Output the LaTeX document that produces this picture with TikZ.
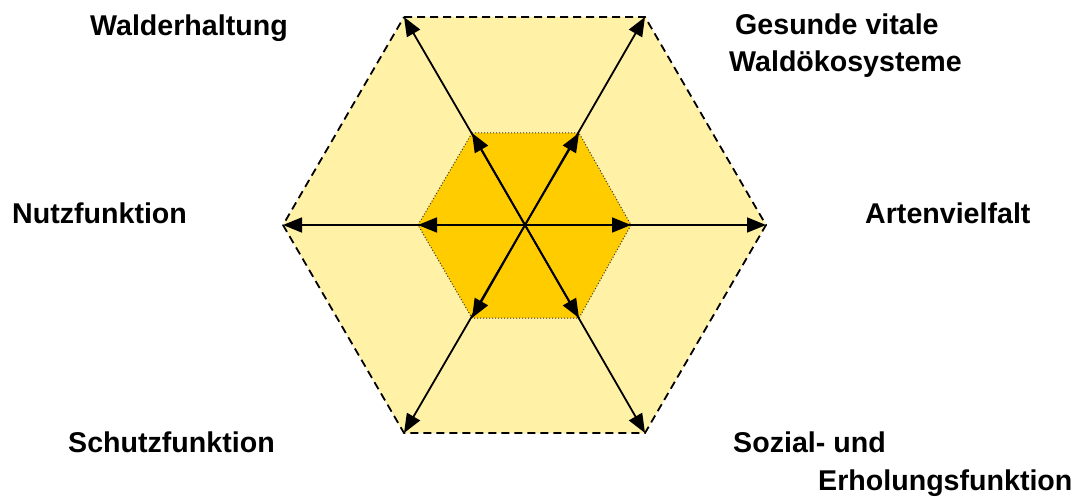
\documentclass[tikz,border=0pt]{standalone}
\usepackage{fontspec}
\setmainfont{Liberation Sans}
\usetikzlibrary{arrows.meta}
\definecolor{outerfill}{RGB}{255,241,166}
\definecolor{innerfill}{RGB}{255,204,0}
\tikzset{
  lbl/.style={anchor=base west,inner sep=0pt,font=\fontsize{28.6}{34}\selectfont\bfseries},
  ray/.style={line width=1.8pt,-{Triangle[length=19pt,width=15pt]}},
  outerhex/.style={fill=outerfill,draw=black,line width=1.8pt,dash pattern=on 8pt off 5pt},
  innerhex/.style={fill=innerfill,draw=black!80,line width=1pt,dotted}
}
\begin{document}
\begin{tikzpicture}[x=1pt,y=-1pt]
\useasboundingbox (0,0) rectangle (1086,497);
% outer vertices
\coordinate (O1) at (404,17);
\coordinate (O2) at (645,17);
\coordinate (O3) at (766,225);
\coordinate (O4) at (645,433);
\coordinate (O5) at (404,433);
\coordinate (O6) at (283,225);
% inner vertices
\coordinate (I1) at (472,133);
\coordinate (I2) at (579,133);
\coordinate (I3) at (631,225);
\coordinate (I4) at (579,318);
\coordinate (I5) at (472,318);
\coordinate (I6) at (418,225);
\coordinate (C) at (525,225);
\draw[outerhex] (O1) -- (O2) -- (O3) -- (O4) -- (O5) -- (O6) -- cycle;
\draw[innerhex] (I1) -- (I2) -- (I3) -- (I4) -- (I5) -- (I6) -- cycle;
\foreach \i in {1,...,6}{
  \draw[ray] (C) -- (O\i);
  \draw[ray] (C) -- (I\i);
}
\node[lbl] (t1) at (90,36) {Walderhaltung};
\node[lbl] (t2a) at (735,35) {Gesunde vitale};
\node[lbl] (t2b) at (729,72) {Waldökosysteme};
\node[lbl] (t3) at (865,223) {Artenvielfalt};
\node[lbl] (t6) at (12,223) {Nutzfunktion};
\node[lbl] (t5) at (68,452) {Schutzfunktion};
\node[lbl] (t4a) at (733,452) {Sozial- und};
\node[lbl] (t4b) at (818,490) {Erholungsfunktion};
\end{tikzpicture}
\end{document}
